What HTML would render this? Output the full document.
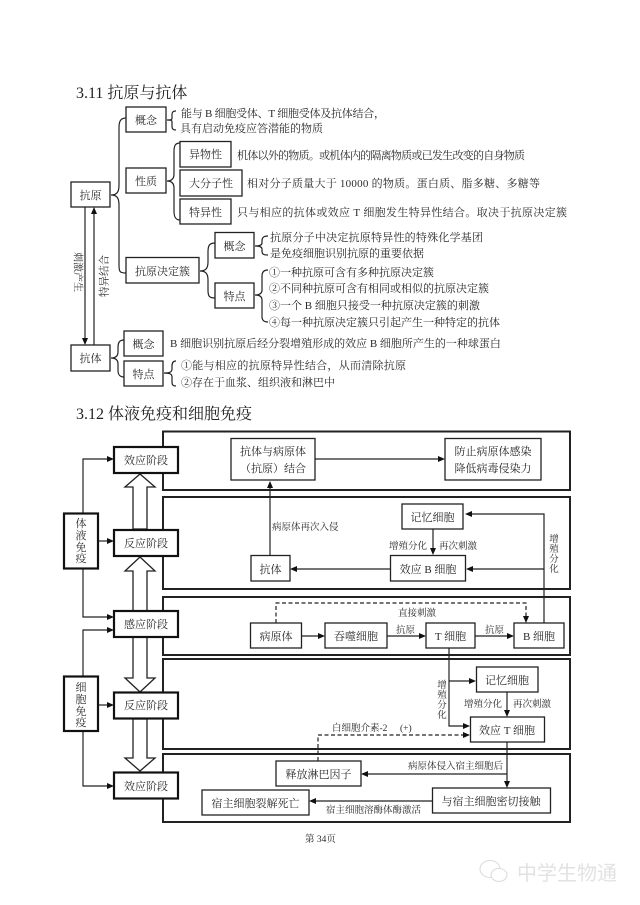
<!DOCTYPE html>
<html><head><meta charset="utf-8"><style>
html,body{margin:0;padding:0;background:#fff}
svg{display:block;filter:blur(.3px)}
text{font-family:"Liberation Serif","Noto Serif CJK SC",serif;fill:#2a2a2a;font-size:11px}
.h{font-size:16px;fill:#222}
.m{text-anchor:middle}
.s{font-size:9.500px}
.b{fill:#fff;stroke:#222;stroke-width:1.3}
.k{fill:#fff;stroke:#111;stroke-width:2.2}
.l{fill:none;stroke:#222;stroke-width:1.2}
.p{fill:none;stroke:#222;stroke-width:2}
.a{fill:#111}
.d{fill:none;stroke:#222;stroke-width:1.2;stroke-dasharray:4 2.5}
.ar{fill:#fff;stroke:#222;stroke-width:1.3}
</style></head><body>
<svg width="640" height="905" viewBox="0 0 640 905" xmlns="http://www.w3.org/2000/svg">
<rect width="640" height="905" fill="#fff"/>

<text class="h" x="76" y="98">3.11 抗原与抗体</text>
<text class="h" x="76" y="419">3.12 体液免疫和细胞免疫</text>

<!-- 3.11 braces -->
<path class="l" d="M126 118 C120 118 119 122 119 128 V185 C119 192 117 195 111 195 C117 195 119 198 119 205 V265 C119 272 120 273 126 273"/>
<path class="l" d="M180 143 C175 143 174 146 174 152 V174 C174 178 172 181 167 181 C172 181 174 184 174 188 V211 C174 216 175 220 180 220"/>
<path class="l" d="M176 111 C173 111 172 112 172 115 V118 C172 120 171 120 167 120 C171 120 172 120 172 122 V126 C172 129 173 130 176 130"/>
<path class="l" d="M215 243 C209 243 208 246 208 252 V262 C208 268 206 271 200 271 C206 271 208 274 208 280 V290 C208 296 209 298 215 298"/>
<path class="l" d="M268 236 C263 236 262 238 262 241 V243 C262 245 260 246 255 246 C260 246 262 247 262 249 V251 C262 254 263 255 268 255"/>
<path class="l" d="M268 270 C264 270 262 272 262 276 V290 C262 293 260 295 255 295 C260 295 262 297 262 300 V317 C262 320 264 322 268 322"/>
<path class="l" d="M124 340 C119 340 118 343 118 348 V352 C118 356 116 358 111 358 C116 358 118 360 118 364 V370 C118 374 119 377 124 377"/>
<path class="l" d="M176 361 C173 361 172 363 172 366 V369 C172 372 170 373 164 373 C170 373 172 374 172 377 V382 C172 385 173 386 176 386"/>

<!-- 3.11 vertical arrows -->
<line class="l" x1="85" y1="207" x2="85" y2="339"/>
<polygon class="a" points="85,345 82,338 88,338"/>
<line class="l" x1="94" y1="213" x2="94" y2="345"/>
<polygon class="a" points="94,207 91,214 97,214"/>
<text style="font-size:10px" transform="translate(78,272) rotate(90)" x="-20" y="3.500">刺激产生</text>
<text style="font-size:10.500px" transform="translate(104,276) rotate(-90)" x="-21" y="3.500">特异结合</text>

<!-- 3.11 boxes -->
<g>
<rect class="b" x="126" y="107" width="40" height="25"/><text class="m" x="146" y="124">概念</text>
<rect class="b" x="126" y="168" width="40" height="25"/><text class="m" x="146" y="185">性质</text>
<rect class="b" x="71" y="182" width="39" height="25"/><text class="m" x="90.500" y="199">抗原</text>
<rect class="b" x="180" y="141.500" width="51" height="25.500"/><text class="m" x="205.500" y="158">异物性</text>
<rect class="b" x="180" y="170" width="62" height="26"/><text class="m" x="211" y="187">大分子性</text>
<rect class="b" x="180" y="199" width="51" height="25"/><text class="m" x="205.500" y="216">特异性</text>
<rect class="b" x="215" y="232.500" width="39" height="25.500"/><text class="m" x="234.500" y="250">概念</text>
<rect class="b" x="126" y="257.500" width="73" height="25.500"/><text class="m" x="162.500" y="275">抗原决定簇</text>
<rect class="b" x="215" y="283" width="39" height="25"/><text class="m" x="234.500" y="300">特点</text>
<rect class="b" x="71" y="345" width="39" height="26"/><text class="m" x="90.500" y="362">抗体</text>
<rect class="b" x="124" y="331" width="39" height="25"/><text class="m" x="143.500" y="348">概念</text>
<rect class="b" x="124" y="361" width="39" height="25"/><text class="m" x="143.500" y="378">特点</text>
</g>

<!-- 3.11 text -->
<text x="181" y="117" textLength="204" lengthAdjust="spacing">能与 B 细胞受体、T 细胞受体及抗体结合，</text>
<text x="180" y="132">具有启动免疫应答潜能的物质</text>
<text x="237" y="159" textLength="288" lengthAdjust="spacing">机体以外的物质。或机体内的隔离物质或已发生改变的自身物质</text>
<text x="247" y="187" textLength="293" lengthAdjust="spacing">相对分子质量大于 10000 的物质。蛋白质、脂多糖、多糖等</text>
<text x="237" y="216" textLength="330" lengthAdjust="spacing">只与相应的抗体或效应 T 细胞发生特异性结合。取决于抗原决定簇</text>
<text x="270" y="241" textLength="213" lengthAdjust="spacing">抗原分子中决定抗原特异性的特殊化学基团</text>
<text x="270" y="257">是免疫细胞识别抗原的重要依据</text>
<text x="269" y="276">①一种抗原可含有多种抗原决定簇</text>
<text x="269" y="292">②不同种抗原可含有相同或相似的抗原决定簇</text>
<text x="269" y="309">③一个 B 细胞只接受一种抗原决定簇的刺激</text>
<text x="269" y="326">④每一种抗原决定簇只引起产生一种特定的抗体</text>
<text x="170" y="347">B 细胞识别抗原后经分裂增殖形成的效应 B 细胞所产生的一种球蛋白</text>
<text x="181" y="369" textLength="225" lengthAdjust="spacing">①能与相应的抗原特异性结合，从而清除抗原</text>
<text x="181" y="386">②存在于血浆、组织液和淋巴中</text>

<!-- panels -->
<rect class="p" x="163" y="431.500" width="407" height="58.500"/>
<rect class="p" x="163" y="497" width="407" height="92"/>
<rect class="p" x="163" y="597" width="407" height="58"/>
<rect class="p" x="163" y="659" width="407" height="90"/>
<rect class="p" x="163" y="754" width="407" height="68"/>

<!-- left connectors -->
<path class="l" d="M83 513 V459 H108"/><polygon class="a" points="114,459 107,456 107,462"/>
<path class="l" d="M98 541 H108"/><polygon class="a" points="114,541 107,538 107,544"/>
<path class="l" d="M83 568 V617 H108"/><polygon class="a" points="114,617 107,614 107,620"/>
<path class="l" d="M83 676 V630 H108"/><polygon class="a" points="114,630 107,627 107,633"/>
<path class="l" d="M98 705 H108"/><polygon class="a" points="114,705 107,702 107,708"/>
<path class="l" d="M83 731 V786 H108"/><polygon class="a" points="114,786 107,783 107,789"/>

<!-- block arrows -->
<polygon class="ar" points="133,529 133,487 125,487 140,474 155,487 147,487 147,529"/>
<polygon class="ar" points="133,611 133,571 125,571 140,557 155,571 147,571 147,611"/>
<polygon class="ar" points="133,637 147,637 147,678 155,678 140,692 125,678 133,678"/>
<polygon class="ar" points="133,719 147,719 147,758 155,758 140,771 125,758 133,758"/>

<!-- stage boxes -->
<rect class="k" x="114" y="447" width="64" height="26"/><text class="m" x="146" y="464">效应阶段</text>
<rect class="k" x="114" y="530" width="64" height="26"/><text class="m" x="146" y="547">反应阶段</text>
<rect class="k" x="114" y="611" width="64" height="26"/><text class="m" x="146" y="628">感应阶段</text>
<rect class="k" x="114" y="692.500" width="64" height="26"/><text class="m" x="146" y="709">反应阶段</text>
<rect class="k" x="114" y="772.500" width="64" height="26"/><text class="m" x="146" y="790">效应阶段</text>
<rect class="k" x="64" y="513.500" width="34" height="55"/>
<text class="m" x="81" y="527">体</text><text class="m" x="81" y="539">液</text><text class="m" x="81" y="551">免</text><text class="m" x="81" y="562">疫</text>
<rect class="k" x="64" y="676.500" width="34" height="54.500"/>
<text class="m" x="81" y="691">细</text><text class="m" x="81" y="703">胞</text><text class="m" x="81" y="715">免</text><text class="m" x="81" y="726">疫</text>

<!-- diagram connectors -->
<path class="l" d="M315 459 H439"/><polygon class="a" points="445,459 438,456 438,462"/>
<path class="l" d="M270 555 V487"/><polygon class="a" points="270,481 267,488 273,488"/>
<path class="l" d="M390 569 H296"/><polygon class="a" points="290,569 297,566 297,572"/>
<path class="l" d="M433 529 V549"/><polygon class="a" points="433,555 430,548 436,548"/>
<path class="l" d="M544 623 V514 H471"/><polygon class="a" points="465,514 472,511 472,517"/>
<path class="l" d="M544 569 H472"/><polygon class="a" points="466,569 473,566 473,572"/>
<path class="d" d="M276 623 V603 H526 V617"/><polygon class="a" points="526,623 523,616 529,616"/>
<path class="l" d="M301 636 H319"/><polygon class="a" points="325,636 318,633 318,639"/>
<path class="l" d="M387 636 H420"/><polygon class="a" points="426,636 419,633 419,639"/>
<path class="l" d="M475 636 H508"/><polygon class="a" points="514,636 507,633 507,639"/>
<path class="l" d="M449 648 V726 H464"/><polygon class="a" points="470,726 463,723 463,729"/>
<path class="l" d="M449 681 H470"/><polygon class="a" points="476,681 469,678 469,684"/>
<path class="l" d="M507 692 V711"/><polygon class="a" points="507,717 504,710 510,710"/>
<path class="d" d="M318 761 V735 H464"/><polygon class="a" points="470,735 463,732 463,738"/>
<path class="l" d="M507 742 V782"/><polygon class="a" points="507,788 504,781 510,781"/>
<path class="l" d="M507 774 H367"/><polygon class="a" points="361,774 368,771 368,777"/>
<path class="l" d="M432 801 H315"/><polygon class="a" points="309,801 316,798 316,804"/>

<!-- diagram nodes -->
<rect class="b" x="231" y="438.500" width="84" height="41.500"/>
<text class="m" x="273" y="455">抗体与病原体</text><text class="m" x="273" y="472">（抗原）结合</text>
<rect class="b" x="445" y="438.500" width="96" height="41.500"/>
<text class="m" x="493" y="455">防止病原体感染</text><text class="m" x="493" y="472">降低病毒侵染力</text>
<rect class="b" x="402" y="504" width="61" height="25"/><text class="m" x="432.500" y="521">记忆细胞</text>
<rect class="b" x="390.500" y="555.500" width="75" height="25.500"/><text class="m" x="428" y="573">效应 B 细胞</text>
<rect class="b" x="251" y="555.500" width="39" height="25.500"/><text class="m" x="270.500" y="573">抗体</text>
<rect class="b" x="250.500" y="623" width="51" height="25"/><text class="m" x="276" y="640">病原体</text>
<rect class="b" x="325" y="623" width="62" height="25"/><text class="m" x="356" y="640">吞噬细胞</text>
<rect class="b" x="426" y="623" width="49" height="25"/><text class="m" x="450.500" y="640">T 细胞</text>
<rect class="b" x="514" y="623" width="50" height="25"/><text class="m" x="539" y="640">B 细胞</text>
<rect class="b" x="476.500" y="667" width="61.500" height="25"/><text class="m" x="507" y="684">记忆细胞</text>
<rect class="b" x="470.500" y="717" width="74" height="25"/><text class="m" x="507" y="734">效应 T 细胞</text>
<rect class="b" x="276" y="761" width="85" height="25"/><text class="m" x="318.500" y="778">释放淋巴因子</text>
<rect class="b" x="202" y="790" width="107" height="25"/><text class="m" x="255.500" y="807">宿主细胞裂解死亡</text>
<rect class="b" x="432.500" y="788" width="118" height="25"/><text class="m" x="491" y="805">与宿主细胞密切接触</text>

<!-- diagram labels -->
<text class="s" x="272" y="530">病原体再次入侵</text>
<text class="s" x="389" y="549">增殖分化</text>
<text class="s" x="439" y="549">再次刺激</text>
<text class="s m" x="554" y="542">增</text><text class="s m" x="554" y="552">殖</text><text class="s m" x="554" y="562">分</text><text class="s m" x="554" y="572">化</text>
<text class="s" x="398" y="616">直接刺激</text>
<text class="s" x="396" y="633">抗原</text>
<text class="s" x="485" y="633">抗原</text>
<text class="s m" x="442" y="688">增</text><text class="s m" x="442" y="698">殖</text><text class="s m" x="442" y="708">分</text><text class="s m" x="442" y="718">化</text>
<text class="s" x="464" y="707">增殖分化</text>
<text class="s" x="513" y="707">再次刺激</text>
<text class="s" x="332" y="731">白细胞介素-2</text>
<text class="s" x="400" y="731">(+)</text>
<text class="s" x="408" y="769">病原体侵入宿主细胞后</text>
<text class="s" x="326" y="813">宿主细胞溶酶体酶激活</text>

<!-- footer -->
<text class="s" x="305" y="842">第 34页</text>

<!-- watermark -->
<g fill="none" stroke="#dcdcdc" stroke-width="1.100">
<ellipse cx="490" cy="869" rx="10" ry="8.500"/>
<ellipse cx="499" cy="875" rx="8" ry="6.500" fill="#fff"/>
</g>
<text x="517" y="880" style="font-size:20px;fill:#e2e2e2;font-family:'Liberation Sans','Noto Sans CJK SC',sans-serif">中学生物通</text>
</svg>
</body></html>
